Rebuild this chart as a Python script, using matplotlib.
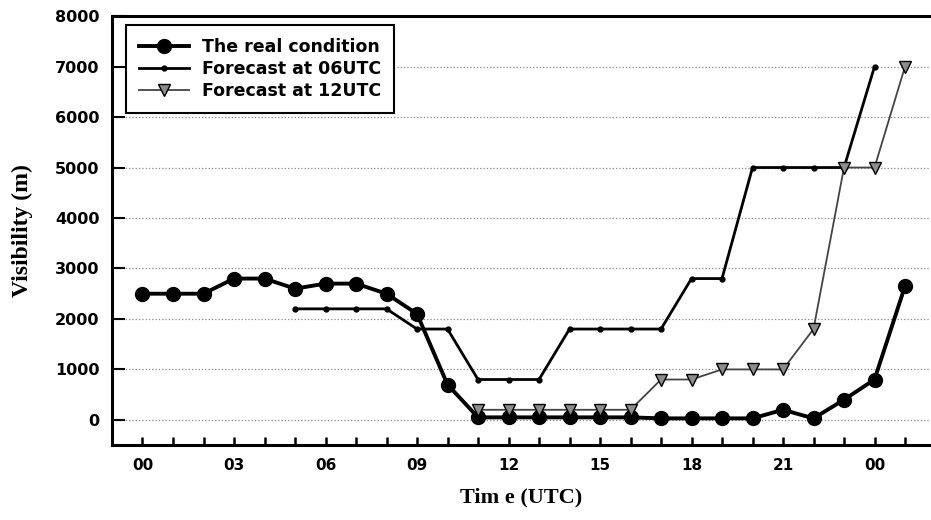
import matplotlib
matplotlib.use('Agg')
import numpy as np
import matplotlib.pyplot as plt

# hours since 00UTC (24 and 25 are next day)
hours_real = list(range(0, 26))
real = [2500, 2500, 2500, 2800, 2800, 2600, 2700, 2700, 2500, 2100, 700,
        50, 50, 50, 50, 50, 50, 30, 30, 30, 30, 200, 30, 400, 800, 2650]

hours_06 = list(range(5, 25))
fc06 = [2200, 2200, 2200, 2200, 1800, 1800, 800, 800, 800, 1800,
        1800, 1800, 1800, 2800, 2800, 5000, 5000, 5000, 5000, 7000]

hours_12 = list(range(11, 26))
fc12 = [200, 200, 200, 200, 200, 200, 800, 800, 1000, 1000,
        1000, 1800, 5000, 5000, 7000]

tick_hours = [0, 3, 6, 9, 12, 15, 18, 21, 24]
tick_labels = ['00', '03', '06', '09', '12', '15', '18', '21', '00']
y_ticks = [0, 1000, 2000, 3000, 4000, 5000, 6000, 7000, 8000]

fig = plt.figure(figsize=(9.31, 5.2), dpi=100)
ax = fig.add_axes([0.1203, 0.144, 0.878, 0.825])

ax.plot(hours_real, real, color='black', lw=2.8, marker='o', ms=10,
        label='The real condition', zorder=4)
ax.plot(hours_06, fc06, color='black', lw=2.0, marker='o', ms=3.5,
        label='Forecast at 06UTC', zorder=3)
ax.plot(hours_12, fc12, color='#444444', lw=1.3, marker='v', ms=8.5,
        mfc='#8c8c8c', mec='black', mew=1.0,
        label='Forecast at 12UTC', zorder=5)

ax.set_xlim(-1, 25.8)
ax.set_ylim(-500, 8000)

ax.set_xticks(range(0, 26))
ax.set_xticklabels([tick_labels[tick_hours.index(h)] if h in tick_hours else ''
                    for h in range(0, 26)])
ax.set_yticks(y_ticks)
ax.set_yticklabels([str(v) for v in y_ticks])
ax.tick_params(axis='x', direction='in', length=6, width=1.8, pad=9,
               labelsize=11)
ax.tick_params(axis='y', direction='in', length=9, width=1.5, pad=9,
               labelsize=11.5)
for lab in ax.get_xticklabels() + ax.get_yticklabels():
    lab.set_fontweight('bold')
    lab.set_family('DejaVu Sans')

ax.yaxis.grid(True, linestyle=':', color='#888888', lw=0.9)
ax.set_axisbelow(True)

for side in ['left', 'bottom', 'top']:
    ax.spines[side].set_linewidth(2.2)
ax.spines['right'].set_visible(False)

ax.set_ylabel('Visibility (m)', family='Liberation Serif', fontweight='bold',
              fontsize=17, labelpad=16)
ax.set_xlabel('Tim e (UTC)', family='Liberation Serif', fontweight='bold',
              fontsize=16, labelpad=11)

leg = ax.legend(loc='upper left', bbox_to_anchor=(0.017, 0.979), frameon=True,
                fancybox=False, edgecolor='black', handlelength=2.9,
                handletextpad=0.75, borderpad=0.75, labelspacing=0.22,
                borderaxespad=0, framealpha=1,
                prop={'family': 'DejaVu Sans', 'weight': 'bold', 'size': 12.5})
leg.get_frame().set_linewidth(1.5)

fig.savefig('out.png', dpi=100)
